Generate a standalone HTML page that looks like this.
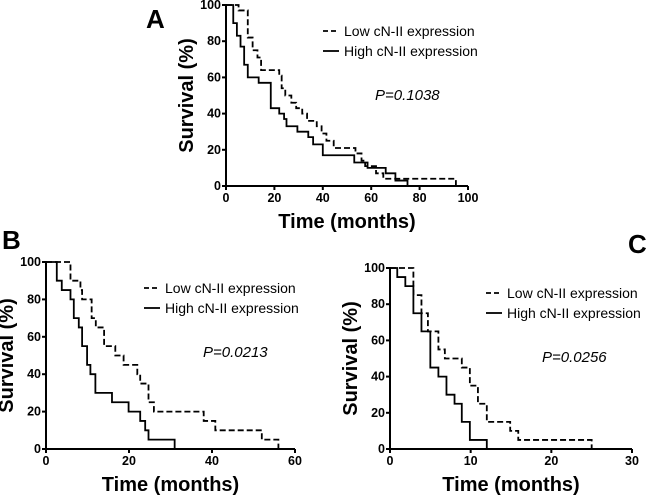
<!DOCTYPE html>
<html><head><meta charset="utf-8"><style>
body{margin:0;background:#fff;}
svg{display:block;font-family:"Liberation Sans",Arial,sans-serif;}
</style></head><body>
<svg id="fig" width="650" height="495" viewBox="0 0 650 495"></svg>
<script>
// Panel A
const aLowT=[0,5.2,9,11,13,14.5,22,23,24.5,27,29,31.5,33.5,37.5,39.5,41.5,44.5,53.5,56,57.5,62,65,95];
const aLowS=[100,97,82,75,71,64,61,54,50,46,43,40,36,33,29,25,21,18,14,11,7,4,0];
const aHighT=[0,3,4.5,6,7.5,9,13.5,18.5,22,24,25,29.5,34,36,40,53,58.5,66,70,75];
const aHighS=[100,90,83,77,67,60,57,43,40,37,33,30,27,23,17,13,10,7,3,0];
const aXTicks=[0,20,40,60,80,100];
// Panel B
const bLowT=[0,5.9,8.3,8.7,11,12,14,16.7,18.7,22,22.7,24.7,26,38,40.8,52,56];
const bLowS=[100,90,85,80,70,65,55,50,45,40,35,25,20,15,10,5,0];
const bHighT=[0,2.6,3.8,5.9,6.7,7.9,8.7,9.9,10.7,11.9,15.9,19.9,22.7,23.9,24.7,31];
const bHighS=[100,90,85,80,70,65,55,45,40,30,25,20,15,10,5,0];
const bXTicks=[0,20,40,60];
// Panel C
const cLowT=[0,2.9,3.9,4.7,6,6.8,8.9,9.9,10.9,12,14.9,15.9,25];
const cLowS=[100,85,75,65,55,50,45,35,25,15,10,5,0];
const cHighT=[0,0.9,1.9,2.9,3.9,5,6,7,8,8.9,9.9,12];
const cHighS=[100,95,90,75,65,45,40,30,25,15,5,0];
const cXTicks=[0,10,20,30];
const yTicks=[0,20,40,60,80,100];

const NS="http://www.w3.org/2000/svg";
const svg=document.getElementById('fig');
function mk(tag,attrs,parent,text){const e=document.createElementNS(NS,tag);for(const k in attrs)e.setAttribute(k,attrs[k]);if(text!==undefined)e.textContent=text;(parent||svg).appendChild(e);return e;}

function panel(cfg){
  const g=mk('g',{});
  
  
  const xs=v=>cfg.x0+(v-cfg.xmin)/(cfg.xmax-cfg.xmin)*(cfg.x1-cfg.x0);
  const ys=v=>cfg.y0+(100-v)/100*(cfg.y1-cfg.y0);
  const ax=mk('path',{d:`M${cfg.x0},${cfg.y0-1}V${cfg.y1}H${cfg.x1}`,stroke:'#000','stroke-width':2,fill:'none'},g);
  
  
  cfg.xticks.forEach(t=>{
    mk('line',{x1:xs(t),x2:xs(t),y1:cfg.y1,y2:cfg.y1+4,stroke:'#000','stroke-width':2},g);
    const tl=mk('text',{x:xs(t),y:cfg.y1+16,'text-anchor':'middle','font-size':12.5,'font-weight':'bold'},g,t);
    
    
  });
  yTicks.forEach(t=>{
    mk('line',{x1:cfg.x0-4,x2:cfg.x0,y1:ys(t),y2:ys(t),stroke:'#000','stroke-width':2},g);
    const tl=mk('text',{x:cfg.x0-5,y:ys(t)+4,'text-anchor':'end','font-size':12.5,'font-weight':'bold'},g,t);
    
    
  });
  function curve(T,S,dash,name){
    let d=`M${xs(T[0])},${ys(S[0])}`;
    for(let i=1;i<T.length;i++){d+=`H${xs(T[i])}V${ys(S[i])}`;}
    const p=mk('path',{d:d,stroke:'#000','stroke-width':1.8,fill:'none','stroke-dasharray':dash?'6,3':'none'},g);
    
    
  }
  curve(cfg.lowT,cfg.lowS,true,'low-expression-curve');
  curve(cfg.highT,cfg.highS,false,'high-expression-curve');
  const xt=mk('text',{x:(cfg.x0+cfg.x1)/2,y:cfg.y1+42,'text-anchor':'middle','font-size':20,'font-weight':'bold'},g,'Time (months)');
  
  
  const yx=cfg.x0-33, yy=(cfg.y0+cfg.y1)/2;
  const yt=mk('text',{x:yx,y:yy,'text-anchor':'middle','font-size':20,'font-weight':'bold',transform:`rotate(-90 ${yx} ${yy})`},g,'Survival (%)');
  
  
  const lx=cfg.lx, ly=cfg.ly;
  mk('line',{x1:lx,x2:lx+16,y1:ly,y2:ly,stroke:'#000','stroke-width':1.8,'stroke-dasharray':'5,3'},g);
  const l1=mk('text',{x:lx+21,y:ly+5,'font-size':14},g,'Low cN-II expression');
  
  
  mk('line',{x1:lx,x2:lx+16,y1:ly+20,y2:ly+20,stroke:'#000','stroke-width':1.8},g);
  const l2=mk('text',{x:lx+21,y:ly+25,'font-size':14},g,'High cN-II expression');
  
  
  const pv=mk('text',{x:cfg.px,y:cfg.py,'font-size':15,'font-style':'italic'},g,cfg.p);
  
  
  const pl=mk('text',{x:cfg.labx,y:cfg.laby,'font-size':26,'font-weight':'bold'},g,cfg.id);
  
  
}
panel({id:'A',x0:226,x1:468,y0:5,y1:186,xmin:0,xmax:100,xticks:aXTicks,lowT:aLowT,lowS:aLowS,highT:aHighT,highS:aHighS,lx:323,ly:31,px:375,py:100,p:'P=0.1038',labx:146,laby:28});
panel({id:'B',x0:46,x1:295,y0:262,y1:449,xmin:0,xmax:60,xticks:bXTicks,lowT:bLowT,lowS:bLowS,highT:bHighT,highS:bHighS,lx:144,ly:288,px:203,py:357,p:'P=0.0213',labx:2,laby:249});
panel({id:'C',x0:390,x1:632,y0:268,y1:449,xmin:0,xmax:30,xticks:cXTicks,lowT:cLowT,lowS:cLowS,highT:cHighT,highS:cHighS,lx:486,ly:293,px:542,py:362,p:'P=0.0256',labx:628,laby:253});
</script>
</body></html>
